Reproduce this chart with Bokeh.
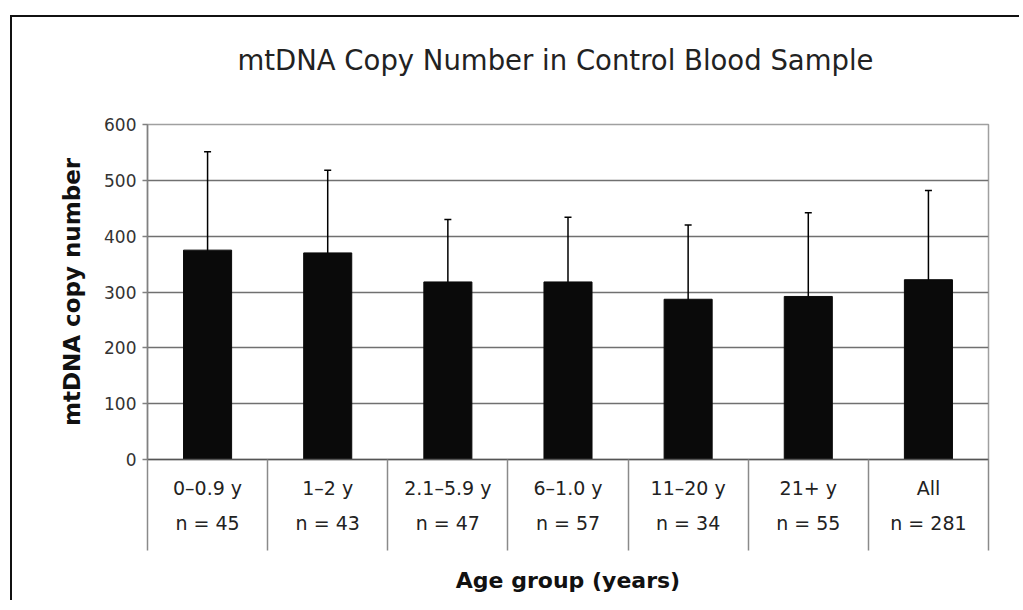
from bokeh.plotting import figure
from bokeh.models import ColumnDataSource, Range1d, FixedTicker, Whisker, TeeHead
from bokeh.embed import file_html
from bokeh.resources import INLINE

# ---- data ----
title_text = "mtDNA Copy Number in Control Blood Sample"
categories = ["0\u20130.9 y", "1\u20132 y", "2.1\u20135.9 y", "6\u20131.0 y", "11\u201320 y", "21+ y", "All"]
n_labels = ["n = 45", "n = 43", "n = 47", "n = 57", "n = 34", "n = 55", "n = 281"]
means = [375, 370, 318, 318, 287, 292, 322]
sds = [176, 148, 112, 116, 133, 150, 160]
y_ticks = [0, 100, 200, 300, 400, 500, 600]

FONT = "DejaVu Sans"

xs = [i + 0.5 for i in range(len(categories))]
bounds = list(range(len(categories) + 1))
src = ColumnDataSource(dict(
    x=xs,
    mean=means,
    upper=[m + s for m, s in zip(means, sds)],
    lower=[m - s for m, s in zip(means, sds)],
))

p = figure(width=1009, height=585,
           x_range=Range1d(0, len(categories)), y_range=Range1d(0, 600),
           output_backend="svg", toolbar_location=None,
           min_border_left=135, min_border_right=33,
           min_border_top=107, min_border_bottom=143)

p.styles = {"position": "relative", "top": "15px", "left": "10px",
            "border-left": "2px solid #111", "border-top": "2px solid #111"}

p.background_fill_color = "white"
p.border_fill_color = "white"
p.outline_line_color = "#a0a0a0"
p.outline_line_width = 1.5

# title (an empty second line makes the title box taller so the text sits higher)
p.title.text = title_text + "\n"
p.title.align = "left"
p.title.vertical_align = "top"
p.title.offset = 90
p.title.standoff = 30
p.title.text_font = FONT
p.title.text_font_size = "27.5px"
p.title.text_font_style = "normal"
p.title.text_color = "#222222"

# grid
p.xgrid.visible = False
p.ygrid.ticker = FixedTicker(ticks=y_ticks)
p.ygrid.grid_line_color = "#707070"
p.ygrid.grid_line_width = 1.5

# bars
p.vbar(x="x", top="mean", width=0.4, source=src,
       fill_color="#0a0a0a", line_color="#0a0a0a")

# error bars
wh = Whisker(base="x", upper="upper", lower="lower", source=src,
             line_color="black", line_width=1.5,
             upper_head=TeeHead(size=7, line_color="black", line_width=1.5),
             lower_head=TeeHead(size=7, line_color="black", line_width=1.5))
p.add_layout(wh)

# y axis
ya = p.yaxis[0]
ya.ticker = FixedTicker(ticks=y_ticks)
ya.major_tick_out = 5
ya.major_tick_in = 0
ya.minor_tick_out = 0
ya.minor_tick_in = 0
ya.axis_line_color = "#808080"
ya.axis_line_width = 1.5
ya.major_tick_line_color = "#808080"
ya.major_tick_line_width = 1.5
ya.major_label_text_font = FONT
ya.major_label_text_font_size = "17px"
ya.major_label_text_color = "#333333"
ya.major_label_standoff = 6
ya.axis_label = "mtDNA copy number"
ya.axis_label_text_font = FONT
ya.axis_label_text_font_style = "bold"
ya.axis_label_text_font_size = "23px"
ya.axis_label_text_color = "#111111"
ya.axis_label_standoff = 16

# x axis: category labels at centres, long minor ticks at boundaries form the table
xa = p.xaxis[0]
xa.ticker = FixedTicker(ticks=xs, minor_ticks=bounds)
xa.major_label_overrides = {x: f"{c}\n{n}" for x, c, n in zip(xs, categories, n_labels)}
xa.major_tick_out = 0
xa.major_tick_in = 0
xa.minor_tick_out = 91
xa.minor_tick_in = 0
xa.minor_tick_line_color = "#8a8a8a"
xa.minor_tick_line_width = 1.5
xa.axis_line_color = "#555555"
xa.axis_line_width = 1.5
xa.major_label_text_font = FONT
xa.major_label_text_font_size = "19px"
xa.major_label_text_color = "#222222"
xa.major_label_text_line_height = 1.6
xa.major_label_standoff = -74
xa.axis_label = "Age group (years)"
xa.axis_label_text_font = FONT
xa.axis_label_text_font_style = "bold"
xa.axis_label_text_font_size = "22px"
xa.axis_label_text_color = "#111111"
xa.axis_label_standoff = 31

open("out.html", "w").write(file_html(p, INLINE))
